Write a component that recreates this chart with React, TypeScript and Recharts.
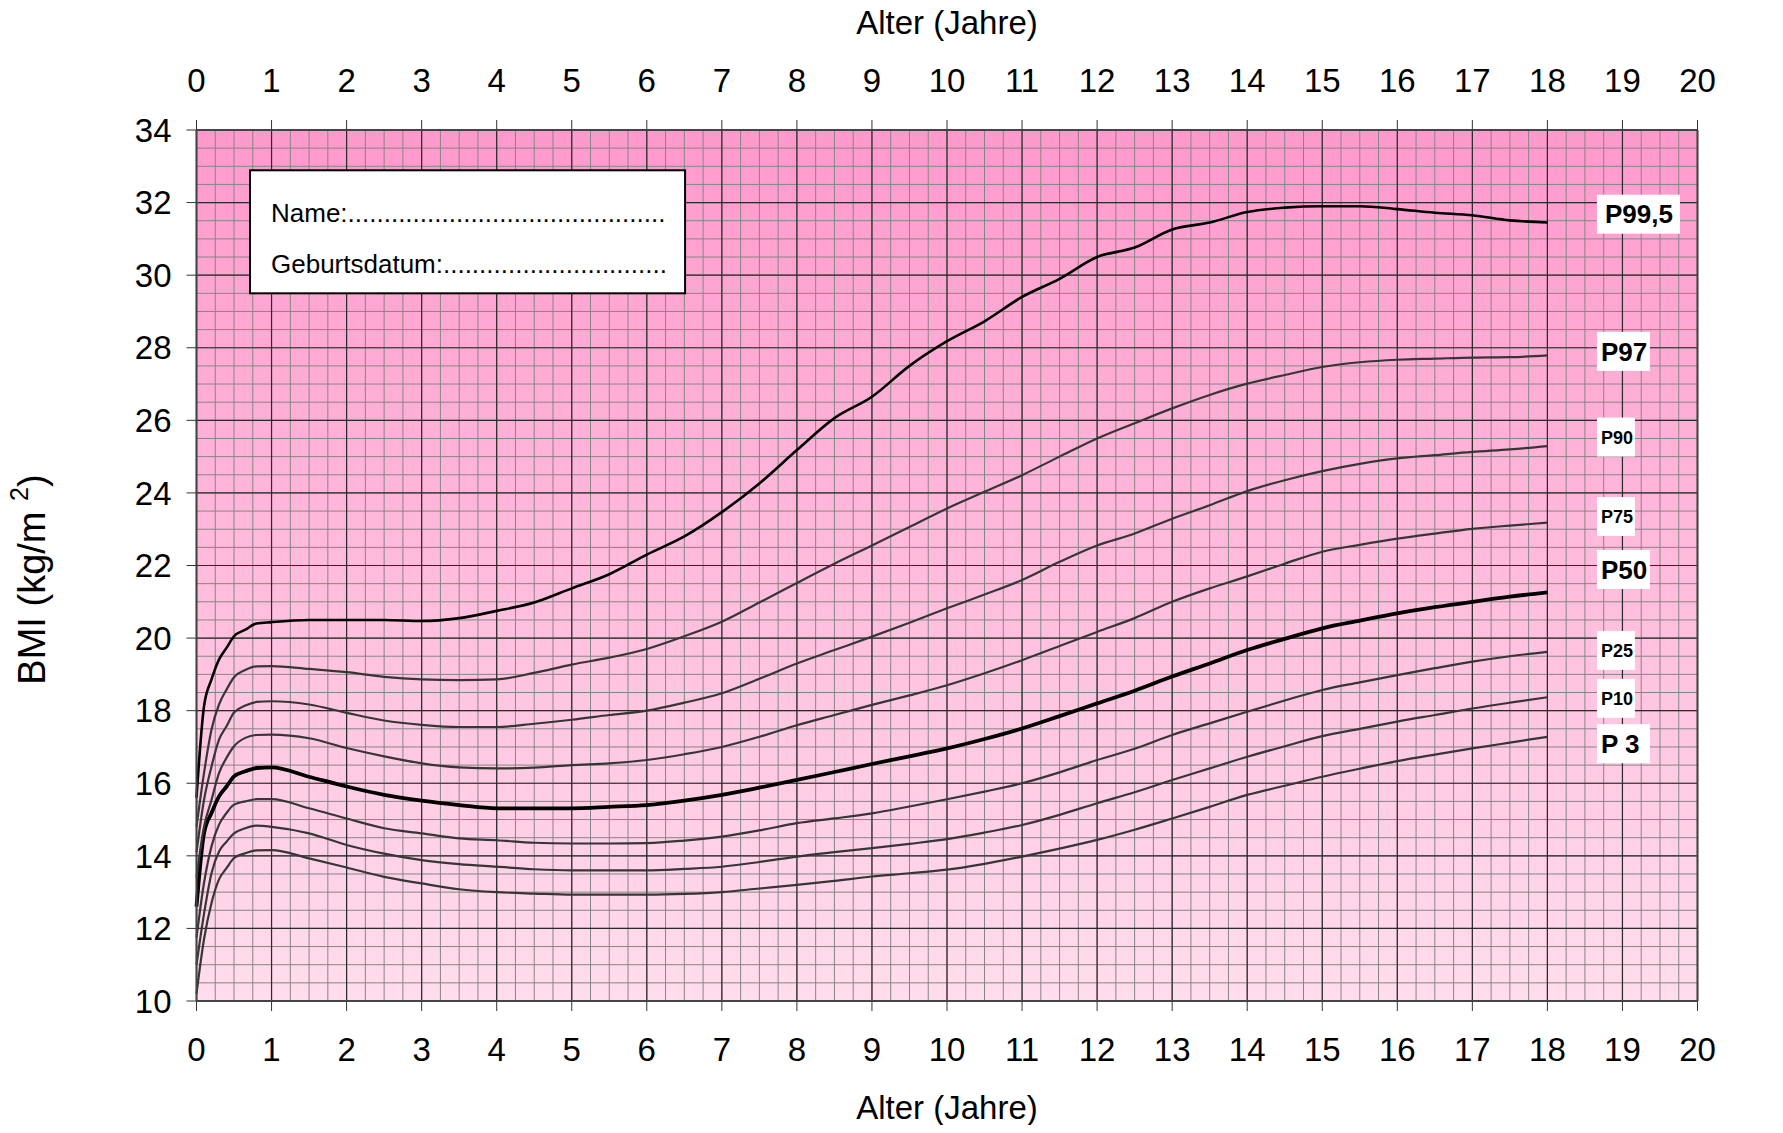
import React from 'react';
import {
  LineChart, Line, XAxis, YAxis, CartesianGrid, ReferenceArea, ReferenceDot,
} from 'recharts';

// Alter in Jahren
const ages = [
  0, 0.1, 0.2, 0.3, 0.4, 0.5, 0.65, 0.8, 1, 1.5, 2, 2.5, 3, 3.5, 4, 4.5, 5, 5.5,
  6, 6.5, 7, 7.5, 8, 8.5, 9, 9.5, 10, 10.5, 11, 11.5, 12, 12.5, 13, 13.5, 14,
  14.5, 15, 15.5, 16, 16.5, 17, 17.5, 18,
];

// BMI-Perzentilen
const p3 = [
  10.2, 11.7, 12.7, 13.35, 13.66, 13.94, 14.07, 14.15, 14.16, 13.93, 13.68, 13.42,
  13.24, 13.08, 13.0, 12.96, 12.93, 12.93, 12.93, 12.95, 13.0, 13.1, 13.2, 13.31,
  13.43, 13.52, 13.62, 13.78, 13.98, 14.2, 14.44, 14.72, 15.03, 15.35, 15.68, 15.93,
  16.18, 16.4, 16.61, 16.79, 16.96, 17.12, 17.28,
];
const p10 = [
  11.0, 12.4, 13.52, 14.12, 14.39, 14.62, 14.76, 14.83, 14.8, 14.62, 14.3, 14.06,
  13.88, 13.77, 13.7, 13.63, 13.6, 13.6, 13.6, 13.64, 13.7, 13.83, 13.98, 14.1,
  14.21, 14.33, 14.46, 14.64, 14.85, 15.13, 15.45, 15.75, 16.09, 16.41, 16.73, 17.02,
  17.3, 17.5, 17.7, 17.88, 18.06, 18.22, 18.37,
];
const p25 = [
  11.75, 13.25, 14.26, 14.86, 15.18, 15.41, 15.5, 15.56, 15.56, 15.31, 15.03, 14.76,
  14.62, 14.48, 14.43, 14.36, 14.34, 14.34, 14.35, 14.42, 14.53, 14.7, 14.9, 15.03,
  15.17, 15.36, 15.56, 15.77, 16.0, 16.3, 16.64, 16.95, 17.33, 17.65, 17.97, 18.28,
  18.57, 18.78, 18.98, 19.17, 19.35, 19.5, 19.62,
];
const p50 = [
  12.6, 14.62, 15.18, 15.64, 15.91, 16.19, 16.33, 16.42, 16.44, 16.18, 15.91, 15.68,
  15.52, 15.4, 15.31, 15.31, 15.31, 15.35, 15.4, 15.52, 15.68, 15.88, 16.09, 16.31,
  16.53, 16.74, 16.96, 17.22, 17.51, 17.85, 18.2, 18.55, 18.94, 19.3, 19.67, 19.98,
  20.27, 20.48, 20.68, 20.85, 21.0, 21.14, 21.26,
];
const p75 = [
  13.4, 14.8, 15.54, 16.28, 16.7, 17.02, 17.25, 17.33, 17.34, 17.24, 16.97, 16.74,
  16.55, 16.44, 16.41, 16.43, 16.5, 16.55, 16.64, 16.8, 17.0, 17.28, 17.6, 17.88,
  18.16, 18.42, 18.7, 19.03, 19.39, 19.78, 20.17, 20.55, 21.0, 21.37, 21.7, 22.05,
  22.38, 22.57, 22.74, 22.88, 23.01, 23.1, 23.18,
];
const p90 = [
  14.1, 15.54, 16.46, 17.2, 17.57, 17.95, 18.14, 18.24, 18.26, 18.17, 17.94, 17.73,
  17.61, 17.55, 17.55, 17.64, 17.75, 17.88, 18.0, 18.22, 18.48, 18.88, 19.3, 19.67,
  20.04, 20.42, 20.82, 21.2, 21.6, 22.1, 22.55, 22.88, 23.29, 23.66, 24.05, 24.35,
  24.6, 24.8, 24.95, 25.04, 25.13, 25.2, 25.29,
];
const p97 = [
  14.8, 16.28, 17.48, 18.17, 18.58, 18.92, 19.12, 19.22, 19.23, 19.15, 19.06, 18.93,
  18.86, 18.84, 18.86, 19.04, 19.27, 19.46, 19.7, 20.05, 20.45, 20.98, 21.52, 22.05,
  22.55, 23.06, 23.57, 24.03, 24.49, 25.0, 25.5, 25.92, 26.33, 26.7, 27.01, 27.25,
  27.47, 27.6, 27.67, 27.7, 27.73, 27.74, 27.79,
];
const p995 = [
  15.6, 18.12, 18.86, 19.41, 19.73, 20.05, 20.23, 20.4, 20.44, 20.5, 20.5, 20.5,
  20.47, 20.55, 20.75, 20.98, 21.37, 21.76, 22.3, 22.8, 23.47, 24.26, 25.18, 26.06,
  26.65, 27.5, 28.18, 28.73, 29.4, 29.9, 30.5, 30.76, 31.26, 31.45, 31.74, 31.86,
  31.9, 31.9, 31.82, 31.72, 31.65, 31.51, 31.45,
];

const xTicks = [0, 1, 2, 3, 4, 5, 6, 7, 8, 9, 10, 11, 12, 13, 14, 15, 16, 17, 18, 19, 20];
const yTicks = [10, 12, 14, 16, 18, 20, 22, 24, 26, 28, 30, 32, 34];
const minorXTicks = Array.from({ length: 81 }, (_, i) => i * 0.25);
const minorYTicks = Array.from({ length: 49 }, (_, i) => 10 + i * 0.5);

const series = [
  { key: 'p3', values: p3, color: '#363636', width: 2.2 },
  { key: 'p10', values: p10, color: '#363636', width: 2.2 },
  { key: 'p25', values: p25, color: '#363636', width: 2.2 },
  { key: 'p50', values: p50, color: '#000000', width: 3.8 },
  { key: 'p75', values: p75, color: '#363636', width: 2.2 },
  { key: 'p90', values: p90, color: '#363636', width: 2.2 },
  { key: 'p97', values: p97, color: '#363636', width: 2.2 },
  { key: 'p995', values: p995, color: '#000000', width: 2.6 },
];

const tagNames = ['P99,5', 'P97', 'P90', 'P75', 'P50', 'P25', 'P10', 'P 3'];
const tagBmi = [31.68, 27.9, 25.54, 23.35, 21.89, 19.66, 18.34, 17.09];
const tagBig = [true, true, false, false, true, false, false, true];
const tagWidth = [83, 53, 38, 38, 53, 38, 38, 53];
const tagAge = 18.66;

const data = ages.map((age, i) => {
  const row: Record<string, number> = { age };
  series.forEach((s) => { row[s.key] = s.values[i]; });
  return row;
});

const FONT = '"Liberation Sans", Arial, Helvetica, sans-serif';
const tickStyle = { fontSize: 33, fill: '#000', fontFamily: FONT };
const axisStroke = { stroke: '#444', strokeWidth: 2 };

// horizontal minor grid lines from the y scale
const minorHorizontal = ({ yAxis, offset }: any) => {
  const sc = yAxis && yAxis.scale;
  if (typeof sc === 'function') return minorYTicks.map((v) => sc(v));
  if (sc && typeof sc.map === 'function') return minorYTicks.map((v) => sc.map(v));
  return minorYTicks.map((v) => offset.top + ((34 - v) / 24) * offset.height);
};

const TagShape = (props: any) => {
  const { cx, cy, i } = props;
  const big = tagBig[i];
  const w = tagWidth[i];
  return (
    <g>
      <rect x={cx} y={cy - 19.5} width={w} height={39} fill="#fff" />
      <text
        x={cx + (i === 0 ? 8 : 4)}
        y={cy + (big ? 9.3 : 6.5)}
        fontFamily={FONT}
        fontWeight="bold"
        fontSize={big ? 26 : 18}
        fill="#000"
      >
        {tagNames[i]}
      </text>
    </g>
  );
};

const NameBox = (props: any) => {
  const { x, y, width, height } = props;
  return (
    <g>
      <rect x={x} y={y} width={width} height={height} fill="#fff" stroke="#000" strokeWidth={2} />
      <text x={x + 21} y={y + 52} fontFamily={FONT} fontSize={26} fill="#000">
        {'Name:' + '.'.repeat(44)}
      </text>
      <text x={x + 21} y={y + 103} fontFamily={FONT} fontSize={26} fill="#000">
        {'Geburtsdatum:' + '.'.repeat(31)}
      </text>
    </g>
  );
};

const YTitle = (props: any) => {
  const { viewBox } = props;
  const cy = viewBox.y + viewBox.height / 2 + 14;
  return (
    <text
      transform={`translate(24, ${cy}) rotate(-90)`}
      textAnchor="middle"
      dominantBaseline="central"
      fontFamily={FONT}
      fontSize={38}
      fill="#000"
    >
      BMI (kg/m <tspan dy={-13} fontSize={25}>2</tspan><tspan dy={13}>)</tspan>
    </text>
  );
};

export default function App() {
  return (
    <div style={{ width: 1767, height: 1117 }}>
      <style>{'svg { overflow: visible; }'}</style>
      <LineChart
        width={1767}
        height={1117}
        data={data}
        margin={{ top: 62, right: 5.5, bottom: 64, left: 98.5 }}
      >
        <defs>
          <linearGradient id="bg" x1="0" y1="0" x2="0" y2="1">
            <stop offset="0%" stopColor="#FF99CC" />
            <stop offset="100%" stopColor="#FFDDEC" />
          </linearGradient>
        </defs>

        <XAxis xAxisId="minor" dataKey="age" type="number" domain={[0, 20]} ticks={minorXTicks} interval={0} hide />

        <XAxis
          dataKey="age"
          type="number"
          domain={[0, 20]}
          ticks={xTicks}
          interval={0}
          height={60}
          tick={tickStyle}
          tickSize={10}
          tickMargin={27}
          axisLine={axisStroke}
          tickLine={{ stroke: '#333' }}
          label={{ value: 'Alter (Jahre)', position: 'bottom', offset: 35, fontSize: 33, fill: '#000', fontFamily: FONT }}
        />
        <XAxis
          xAxisId="top"
          orientation="top"
          dataKey="age"
          type="number"
          domain={[0, 20]}
          ticks={xTicks}
          interval={0}
          height={60}
          tick={tickStyle}
          tickSize={10}
          tickMargin={28}
          axisLine={axisStroke}
          tickLine={{ stroke: '#333' }}
          label={{ value: 'Alter (Jahre)', position: 'top', offset: 36, fontSize: 33, fill: '#000', fontFamily: FONT }}
        />
        <YAxis
          type="number"
          domain={[10, 34]}
          ticks={yTicks}
          interval={0}
          width={90}
          tick={tickStyle}
          tickSize={10}
          tickMargin={15}
          axisLine={axisStroke}
          tickLine={{ stroke: '#333' }}
          label={<YTitle />}
        />
        <YAxis
          yAxisId="right"
          orientation="right"
          type="number"
          domain={[10, 34]}
          ticks={yTicks}
          interval={0}
          width={72}
          tick={tickStyle}
          tickSize={10}
          tickMargin={13}
          axisLine={axisStroke}
          tickLine={{ stroke: '#333' }}
        />

        <CartesianGrid
          xAxisId="minor"
          stroke="#858585"
          strokeWidth={1}
          fill="url(#bg)"
          fillOpacity={1}
          horizontalCoordinatesGenerator={minorHorizontal}
        />
        <CartesianGrid stroke="#2a2a2a" strokeWidth={1.2} />

        {series.map((s) => (
          <Line
            key={s.key}
            dataKey={s.key}
            type="monotone"
            stroke={s.color}
            strokeWidth={s.width}
            dot={false}
            activeDot={false}
            isAnimationActive={false}
          />
        ))}

        <ReferenceArea
          x1={0.713}
          x2={6.51}
          y1={29.5}
          y2={32.89}
          shape={<NameBox />}
          ifOverflow="visible"
        />

        {tagNames.map((name, i) => (
          <ReferenceDot
            key={name}
            x={tagAge}
            y={tagBmi[i]}
            r={0}
            ifOverflow="visible"
            shape={(p: any) => <TagShape {...p} i={i} />}
          />
        ))}
      </LineChart>
    </div>
  );
}
